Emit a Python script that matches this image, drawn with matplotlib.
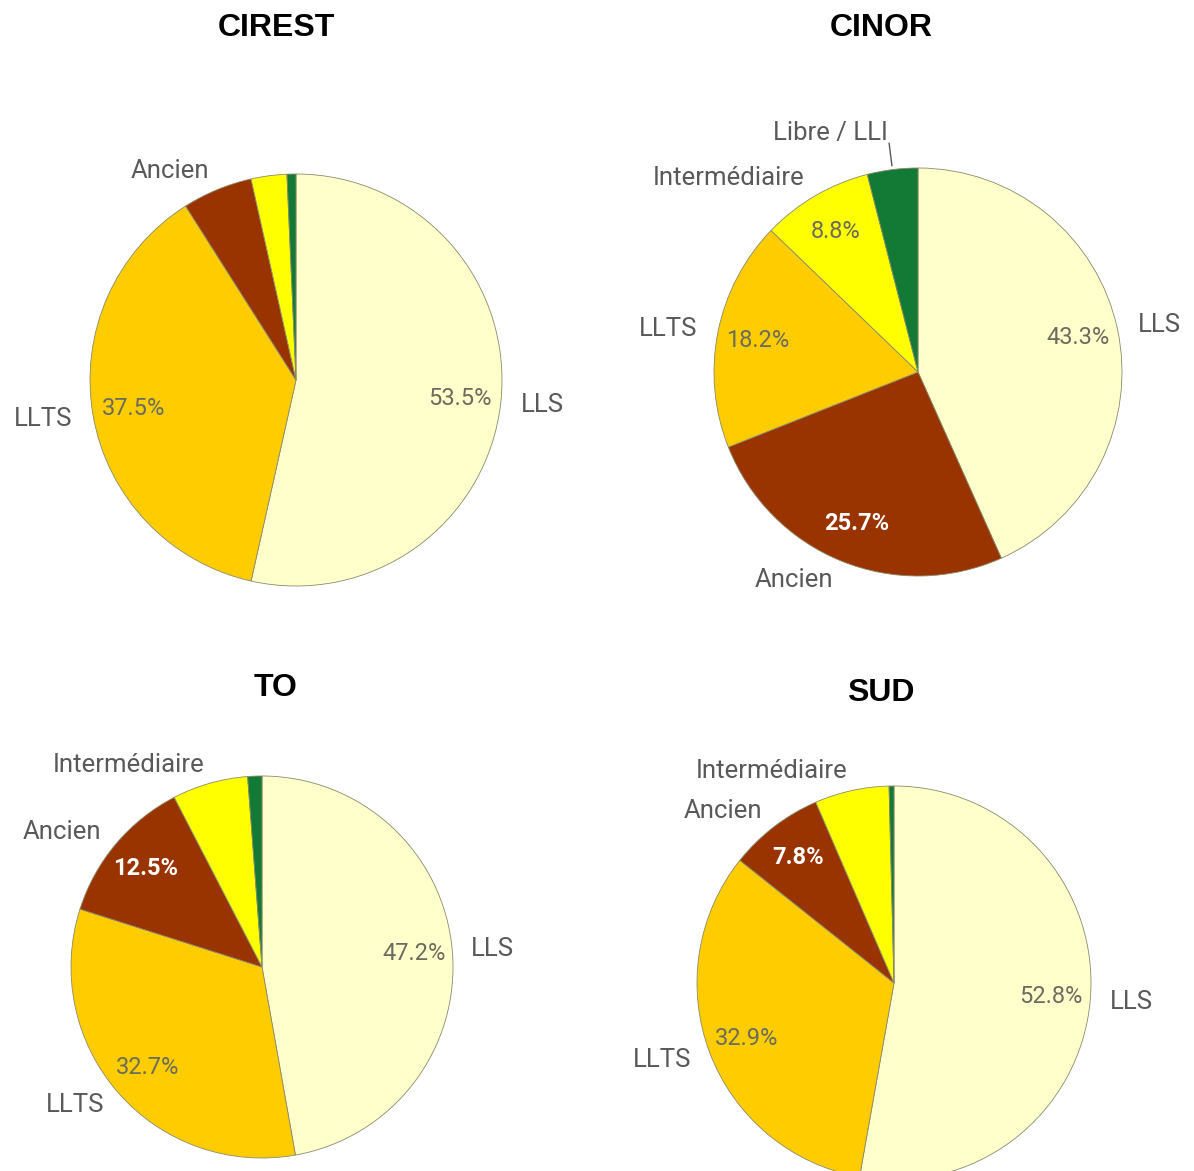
import numpy as np
import matplotlib
matplotlib.use("Agg")
import matplotlib.pyplot as plt

# slice order goes clockwise from 12 o'clock
cirest_labels = ["LLS", "LLTS", "Ancien", "Intermédiaire", "Libre / LLI"]
cirest_values = [53.5, 37.5, 5.5, 2.8, 0.7]

cinor_labels = ["LLS", "Ancien", "LLTS", "Intermédiaire", "Libre / LLI"]
cinor_values = [43.3, 25.7, 18.2, 8.8, 4.0]

to_labels = ["LLS", "LLTS", "Ancien", "Intermédiaire", "Libre / LLI"]
to_values = [47.2, 32.7, 12.5, 6.4, 1.2]

sud_labels = ["LLS", "LLTS", "Ancien", "Intermédiaire", "Libre / LLI"]
sud_values = [52.8, 32.9, 7.8, 6.1, 0.4]

colors = {
    "LLS": "#FFFFCC",
    "LLTS": "#FFCC00",
    "Ancien": "#993300",
    "Intermédiaire": "#FFFF00",
    "Libre / LLI": "#127A35",
}

W, H = 1194, 1171
fig = plt.figure(figsize=(W / 100, H / 100), dpi=100)
plt.rcParams['font.family'] = ['Roboto', 'DejaVu Sans']

GREY = "#595959"
L = 1.5


def draw_pie(title, labels, values, cx, cy, r, tx, ty):
    ax = fig.add_axes([(cx - L * r) / W, 1 - (cy + L * r) / H,
                       2 * L * r / W, 2 * L * r / H])
    wedges, _ = ax.pie(values, colors=[colors[l] for l in labels],
                       startangle=90, counterclock=False, radius=1,
                       wedgeprops=dict(edgecolor="#8a8a6a", linewidth=0.6))
    for w, lab, v in zip(wedges, labels, values):
        ang = np.deg2rad((w.theta1 + w.theta2) / 2)
        ca, sa = np.cos(ang), np.sin(ang)
        if v >= 7:
            c = "white" if lab == "Ancien" else "#6b6b5e"
            fw = "bold" if lab == "Ancien" else "normal"
            ax.text(0.8 * ca, 0.8 * sa, f"{v:.1f}%",
                    ha="center", va="center", fontsize=17, color=c, fontweight=fw)
        if v < 3:
            continue
        d = 1.1
        if v < 5:
            # small slice: short leader line to its label
            ax.plot([1.02 * ca, 1.13 * ca], [1.02 * sa, 1.13 * sa],
                    color=GREY, lw=1, clip_on=False)
            d = 1.18
        ax.text(d * ca, d * sa, lab, ha="left" if ca > 0 else "right",
                va="center", fontsize=18.5, color=GREY)
    ax.set_xlim(-L, L)
    ax.set_ylim(-L, L)
    ax.set_aspect("equal")
    ax.axis("off")
    fig.text(tx / W, 1 - ty / H, title, ha="center", va="center",
             fontsize=23, fontweight="bold", family="Liberation Sans")


draw_pie("CIREST", cirest_labels, cirest_values, 296, 380, 206, 276, 28)
draw_pie("CINOR", cinor_labels, cinor_values, 918, 372, 204, 881, 28)
draw_pie("TO", to_labels, to_values, 262, 967, 191, 276, 688)
draw_pie("SUD", sud_labels, sud_values, 894, 983, 197, 881, 693)

fig.savefig("out.png", dpi=100, facecolor="white")
